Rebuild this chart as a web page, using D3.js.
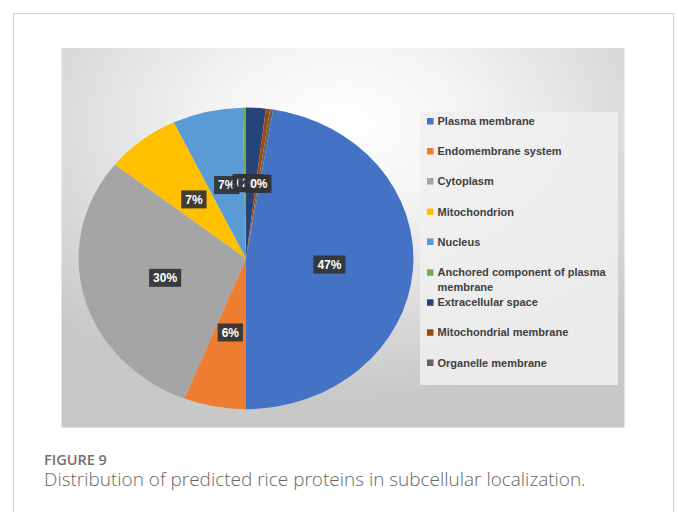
<!DOCTYPE html>
<html>
<head>
<meta charset="utf-8">
<script src="https://cdn.jsdelivr.net/npm/d3@7"></script>
<style>
  html, body { margin: 0; padding: 0; background: #ffffff; }
  svg { display: block; }
</style>
</head>
<body>
<div id="chart"></div>
<script>
// ---- data ----
const categories = [
  "Plasma membrane",
  "Endomembrane system",
  "Cytoplasm",
  "Mitochondrion",
  "Nucleus",
  "Anchored component of plasma membrane",
  "Extracellular space",
  "Mitochondrial membrane",
  "Organelle membrane"
];
const values = [47.4, 6.0, 29.7, 7.2, 6.8, 0.3, 1.9, 0.4, 0.3];
const colors = ["#4472C4", "#ED7D31", "#A5A5A5", "#FFC000", "#5B9BD5", "#70AD47", "#264478", "#9E480E", "#636363"];
const legendLines = [
  ["Plasma membrane"],
  ["Endomembrane system"],
  ["Cytoplasm"],
  ["Mitochondrion"],
  ["Nucleus"],
  ["Anchored component of plasma", "membrane"],
  ["Extracellular space"],
  ["Mitochondrial membrane"],
  ["Organelle membrane"]
];
const figureLabel = "FIGURE 9";
const captionText = "Distribution of predicted rice proteins in subcellular localization.";

// ---- layout ----
const W = 678, H = 512;
const svg = d3.select("#chart").append("svg").attr("width", W).attr("height", H);
const defs = svg.append("defs");

// card border
svg.append("rect").attr("x", 13.5).attr("y", 13.5).attr("width", 660).attr("height", 520)
  .attr("fill", "#fff").attr("stroke", "#d4d4d4").attr("stroke-width", 1.2);

// chart area background gradient
const grad = defs.append("radialGradient").attr("id", "bg")
  .attr("cx", "50%").attr("cy", "20%").attr("r", "72%");
grad.append("stop").attr("offset", "0%").attr("stop-color", "#ffffff");
grad.append("stop").attr("offset", "30%").attr("stop-color", "#f5f5f5");
grad.append("stop").attr("offset", "100%").attr("stop-color", "#c8c8c8");

const area = {x: 61.5, y: 48, w: 563, h: 379.5};
svg.append("rect").attr("x", area.x).attr("y", area.y).attr("width", area.w).attr("height", area.h)
  .attr("fill", "url(#bg)");

// pie
const cx = 246, cy = 258.4, r = 150.8, sx = 1.11;
const total = d3.sum(values);
const firstAngle = Math.PI - (values[0] / total) * 2 * Math.PI;
const pie = d3.pie().sort(null).value(d => d)
  .startAngle(firstAngle).endAngle(firstAngle + 2 * Math.PI);
const arcs = pie(values);
const arc = d3.arc().innerRadius(0).outerRadius(r);
const labelArc = d3.arc().innerRadius(0).outerRadius(r);

const pg = svg.append("g").attr("transform", `translate(${cx},${cy}) scale(${sx},1)`);
pg.selectAll("path").data(arcs).join("path")
  .attr("d", arc)
  .attr("fill", (d, i) => colors[i]);

// data labels
const fmt = d3.format(".0%");
const lg = svg.append("g");
arcs.forEach((d, i) => {
  const c = labelArc.centroid(d);
  const x = cx + c[0] * sx, y = cy + c[1];
  const g = lg.append("g").attr("transform", `translate(${x},${y})`);
  const t = g.append("text")
    .attr("text-anchor", "middle").attr("dy", "0.36em")
    .attr("font-family", "Liberation Sans, Arial, sans-serif")
    .attr("font-weight", "bold").attr("font-size", 12)
    .attr("fill", "#ffffff")
    .text(fmt(values[i] / total));
  const bw = t.node().getComputedTextLength() + 8;
  g.insert("rect", "text")
    .attr("x", -bw / 2).attr("y", -9).attr("width", bw).attr("height", 18)
    .attr("fill", "#303336").attr("fill-opacity", 0.92);
});

// legend
svg.append("rect").attr("x", 420).attr("y", 112).attr("width", 198).attr("height", 273)
  .attr("fill", "#f0f0f0").attr("fill-opacity", 0.85);
const rowY = [121, 151, 181, 211.5, 241.5, 272.3, 302.3, 332.3, 362.5];
const leg = svg.append("g");
categories.forEach((c, i) => {
  const y = rowY[i];
  leg.append("rect").attr("x", 427).attr("y", y - 3).attr("width", 6.5).attr("height", 6.5)
    .attr("fill", colors[i]);
  legendLines[i].forEach((ln, j) => {
    leg.append("text")
      .attr("x", 437.5).attr("y", y + 4 + j * 14.4)
      .attr("font-family", "Liberation Sans, Arial, sans-serif")
      .attr("font-weight", "bold").attr("font-size", 11)
      .attr("fill", "#404040")
      .text(ln);
  });
});

// caption
svg.append("text").attr("x", 44).attr("y", 465)
  .attr("font-family", "Open Sans, sans-serif").attr("font-weight", 600)
  .attr("font-size", 14.5).attr("fill", "#707070")
  .text(figureLabel);
const cap = svg.append("text").attr("x", 44).attr("y", 486)
  .attr("font-family", "Open Sans, sans-serif").attr("font-weight", 300)
  .attr("font-size", 16).attr("fill", "#666666")
  .text(captionText);
const cw = cap.node().getComputedTextLength();
cap.attr("font-size", 16 * 542 / cw);
</script>
</body>
</html>
